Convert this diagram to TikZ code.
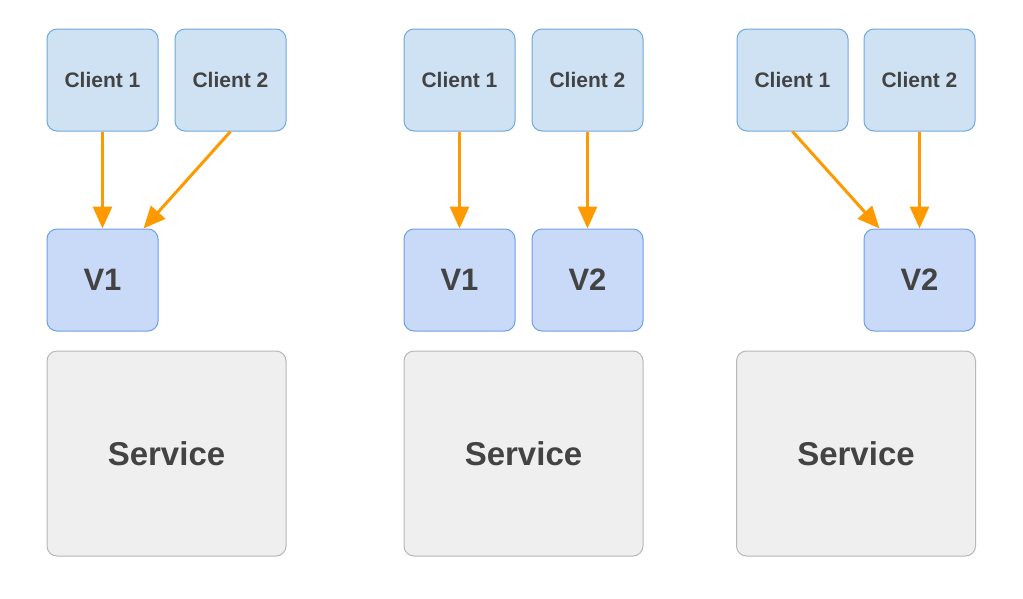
\documentclass[tikz,border=0pt]{standalone}
\usepackage{fontspec}
\setmainfont{Liberation Sans}
\usepackage{tikz}
\usetikzlibrary{arrows.meta,
                calc,
                positioning}

\definecolor{clientfill}{HTML}{CFE2F3}
\definecolor{clientline}{HTML}{6FA8DC}
\definecolor{verfill}{HTML}{C9DAF8}
\definecolor{verline}{HTML}{6D9EEB}
\definecolor{svcfill}{HTML}{EFEFEF}
\definecolor{svcline}{HTML}{B7B7B7}
\definecolor{flowcol}{HTML}{FF9900}
\definecolor{txtcol}{HTML}{434343}

\tikzset{
  box/.style={draw, rounded corners=10pt, line width=1pt, inner sep=0pt,
              text=txtcol, font=\bfseries},
  client/.style={box, fill=clientfill, draw=clientline,
                 minimum width=111pt, minimum height=102pt, font=\bfseries\fontsize{21}{25}\selectfont},
  ver/.style={box, fill=verfill, draw=verline,
              minimum width=111pt, minimum height=102pt, font=\bfseries\fontsize{31}{36}\selectfont},
  svc/.style={box, fill=svcfill, draw=svcline,
              minimum width=239pt, minimum height=205pt, font=\bfseries\fontsize{33}{38}\selectfont},
  flow/.style={draw=flowcol, line width=3pt, -{Triangle[length=22pt,width=19pt]}}
}

\begin{document}
\begin{tikzpicture}[x=1pt,y=-1pt]
\useasboundingbox (0,0) rectangle (1023,598);

% first stage: only V1
\node[client] (a1) at (102.5,80) {Client 1};
\node[client] (a2) at (230.5,80) {Client 2};
\node[ver] (av1) at (102.5,280) {V1};
\node[svc] (as) at (166.5,453.5) {Service};
\draw[flow] (a1.south) -- (av1.north);
\draw[flow] (a2.south) -- ([xshift=-15pt]av1.north east);

% second stage: V1 and V2
\node[client] (b1) at (459.5,80) {Client 1};
\node[client] (b2) at (587.5,80) {Client 2};
\node[ver] (bv1) at (459.5,280) {V1};
\node[ver] (bv2) at (587.5,280) {V2};
\node[svc] (bs) at (523.5,453.5) {Service};
\draw[flow] (b1.south) -- (bv1.north);
\draw[flow] (b2.south) -- (bv2.north);

% third stage: only V2
\node[client] (c1) at (792.5,80) {Client 1};
\node[client] (c2) at (919.5,80) {Client 2};
\node[ver] (cv2) at (919.5,280) {V2};
\node[svc] (cs) at (856,453.5) {Service};
\draw[flow] (c1.south) -- ([xshift=16pt]cv2.north west);
\draw[flow] (c2.south) -- (cv2.north);
\end{tikzpicture}
\end{document}
